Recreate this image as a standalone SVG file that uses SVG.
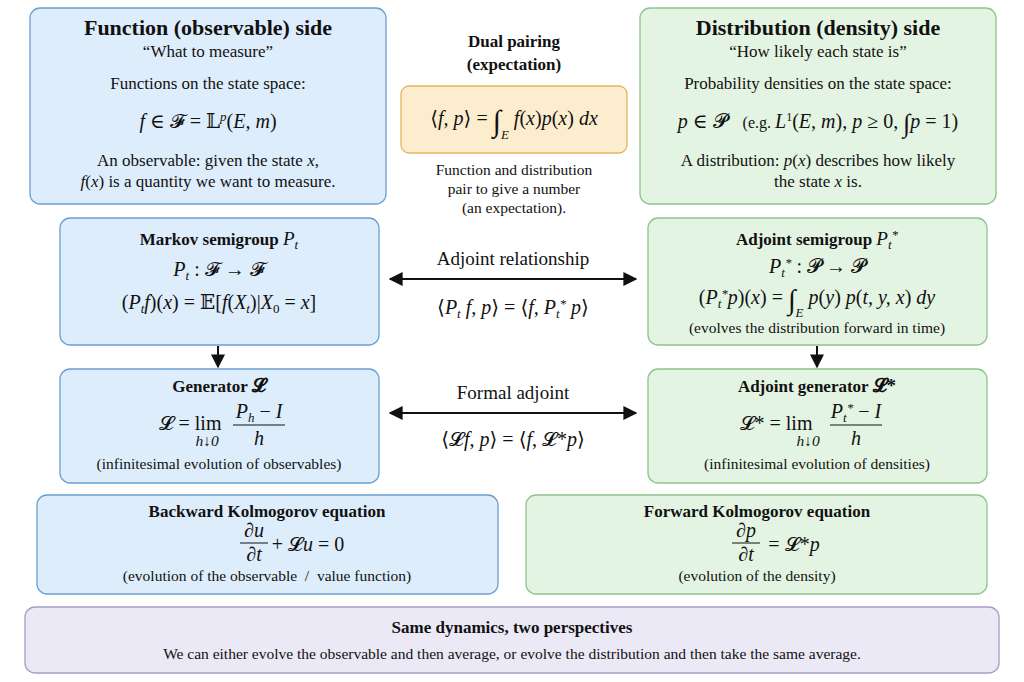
<svg xmlns="http://www.w3.org/2000/svg" width="1024" height="682" viewBox="0 0 1024 682" font-family="'Liberation Serif', 'Times New Roman', Tinos, 'DejaVu Serif', serif">
<style>
text, tspan{font-family:'Liberation Serif','Times New Roman',Tinos,'DejaVu Serif',serif}
text{fill:#111;text-anchor:middle}
.t{font-size:22px;font-weight:bold}
.h{font-size:17px;font-weight:bold}
.n{font-size:17px}
.s{font-size:15.5px}
.m{font-size:20px}
.i{font-style:italic}
.b{fill:#deedfb;stroke:#6a9fd0;stroke-width:1.3}
.g{fill:#e4f4e2;stroke:#8dc48b;stroke-width:1.3}
.o{fill:#fdedcf;stroke:#e2b460;stroke-width:1.3}
.p{fill:#ece9f7;stroke:#a89dc9;stroke-width:1.3}
.c{stroke:#111;stroke-width:2;fill:none}
</style>
<defs>
<marker id="a" viewBox="0 0 10 10" refX="9" refY="5" markerWidth="7" markerHeight="7" orient="auto-start-reverse"><path d="M0,0L10,5L0,10z" fill="#111"/></marker>
</defs>
<rect width="1024" height="682" fill="#fff"/>
<g id="func">
<rect class="b" x="30" y="8" width="356" height="196" rx="10"/>
<text class="t" x="208" y="35">Function (observable) side</text>
<text class="n" x="208" y="57">“What to measure”</text>
<text class="n" x="208" y="89">Functions on the state space:</text>
<text class="m" x="208" y="128"><tspan class="i">f</tspan> ∈ 𝓕 = 𝕃<tspan class="i" dy="-7" font-size="13">p</tspan><tspan dy="7">(</tspan><tspan class="i">E, m</tspan>)</text>
<text class="n" x="208" y="166">An observable: given the state <tspan class="i">x</tspan>,</text>
<text class="n" x="208" y="187"><tspan class="i">f</tspan>(<tspan class="i">x</tspan>) is a quantity we want to measure.</text>
</g>
<g id="pair">
<text class="h" x="514" y="47">Dual pairing</text>
<text class="h" x="514" y="70">(expectation)</text>
<rect class="o" x="401" y="86" width="226" height="67" rx="8"/>
<text class="m" x="514" y="125">⟨<tspan class="i">f, p</tspan>⟩ = <tspan font-size="30" dy="6">∫</tspan><tspan class="i" font-size="13" dy="8">E</tspan><tspan dy="-14"> </tspan><tspan class="i">f</tspan>(<tspan class="i">x</tspan>)<tspan class="i">p</tspan>(<tspan class="i">x</tspan>) <tspan class="i">dx</tspan></text>
<text class="s" x="514" y="175">Function and distribution</text>
<text class="s" x="514" y="194">pair to give a number</text>
<text class="s" x="514" y="213">(an expectation).</text>
</g>
<g id="dist">
<rect class="g" x="640" y="8" width="356" height="196" rx="10"/>
<text class="t" x="818" y="35">Distribution (density) side</text>
<text class="n" x="818" y="57">“How likely each state is”</text>
<text class="n" x="818" y="89">Probability densities on the state space:</text>
<text class="m" x="818" y="128"><tspan class="i">p</tspan> ∈ 𝓟<tspan font-size="16" xml:space="preserve">    (e.g. </tspan><tspan class="i">L</tspan><tspan font-size="12" dy="-7">1</tspan><tspan dy="7">(</tspan><tspan class="i">E, m</tspan>), <tspan class="i">p</tspan> ≥ 0, <tspan font-size="26" dy="4">∫</tspan><tspan dy="-4" class="i">p</tspan> = 1)</text>
<text class="n" x="818" y="166">A distribution: <tspan class="i">p</tspan>(<tspan class="i">x</tspan>) describes how likely</text>
<text class="n" x="818" y="187">the state <tspan class="i">x</tspan> is.</text>
</g>
<g id="markov">
<rect class="b" x="60" y="218" width="319" height="127" rx="10"/>
<text class="h" x="219" y="245">Markov semigroup <tspan class="i" font-weight="normal" font-size="19">P<tspan font-size="13" dy="4">t</tspan></tspan></text>
<text class="m" x="219" y="276"><tspan class="i">P<tspan font-size="13" dy="4">t</tspan></tspan><tspan dy="-4"> : 𝓕 → 𝓕</tspan></text>
<text class="m" x="219" y="309">(<tspan class="i">P<tspan font-size="13" dy="4">t</tspan></tspan><tspan dy="-4" class="i">f</tspan>)(<tspan class="i">x</tspan>) = 𝔼[<tspan class="i">f</tspan>(<tspan class="i">X<tspan font-size="13" dy="4">t</tspan></tspan><tspan dy="-4">)|</tspan><tspan class="i">X</tspan><tspan font-size="13" dy="4">0</tspan><tspan dy="-4"> = </tspan><tspan class="i">x</tspan>]</text>
</g>
<g id="adjsemi">
<rect class="g" x="648" y="218" width="339" height="127" rx="10"/>
<text class="h" x="817" y="245">Adjoint semigroup <tspan class="i" font-weight="normal" font-size="19">P<tspan font-size="13" dy="4">t</tspan><tspan font-size="13" dy="-10">*</tspan></tspan></text>
<text class="m" x="817" y="273"><tspan class="i">P<tspan font-size="13" dy="4">t</tspan><tspan font-size="13" dy="-10">*</tspan></tspan><tspan dy="6"> : 𝓟 → 𝓟</tspan></text>
<text class="m" x="817" y="304">(<tspan class="i">P<tspan font-size="13" dy="4">t</tspan><tspan font-size="13" dy="-10">*</tspan></tspan><tspan dy="6" class="i">p</tspan>)(<tspan class="i">x</tspan>) = <tspan font-size="28" dy="5">∫</tspan><tspan class="i" font-size="13" dy="8">E</tspan><tspan dy="-13" class="i"> p</tspan>(<tspan class="i">y</tspan>) <tspan class="i">p</tspan>(<tspan class="i">t, y, x</tspan>) <tspan class="i">dy</tspan></text>
<text class="s" x="817" y="333">(evolves the distribution forward in time)</text>
</g>
<g id="gen">
<rect class="b" x="60" y="369" width="319" height="114" rx="10"/>
<text class="h" x="219" y="392">Generator <tspan font-size="19">𝓛</tspan></text>
<text class="m" x="190" y="430">𝓛 = lim</text>
<text class="s i" x="207" y="446">h↓0</text>
<line x1="233" y1="425" x2="285" y2="425" stroke="#111" stroke-width="1"/>
<text class="m" x="259" y="418"><tspan class="i">P<tspan font-size="13" dy="4">h</tspan></tspan><tspan dy="-4"> − </tspan><tspan class="i">I</tspan></text>
<text class="m i" x="259" y="445">h</text>
<text class="s" x="219" y="469">(infinitesimal evolution of observables)</text>
</g>
<g id="adjgen">
<rect class="g" x="648" y="369" width="339" height="114" rx="10"/>
<text class="h" x="817" y="392">Adjoint generator <tspan font-size="19">𝓛*</tspan></text>
<text class="m" x="776" y="430">𝓛* = lim</text>
<text class="s i" x="808" y="446">h↓0</text>
<line x1="830" y1="425" x2="882" y2="425" stroke="#111" stroke-width="1"/>
<text class="m" x="856" y="418"><tspan class="i">P<tspan font-size="13" dy="4">t</tspan><tspan font-size="13" dy="-10">*</tspan></tspan><tspan dy="6"> − </tspan><tspan class="i">I</tspan></text>
<text class="m i" x="856" y="445">h</text>
<text class="s" x="817" y="469">(infinitesimal evolution of densities)</text>
</g>
<g id="backward">
<rect class="b" x="37" y="495" width="461" height="99" rx="10"/>
<text class="h" x="267" y="517">Backward Kolmogorov equation</text>
<text class="m i" x="254" y="537">∂u</text>
<line x1="240" y1="543" x2="268" y2="543" stroke="#111" stroke-width="1"/>
<text class="m i" x="254" y="561">∂t</text>
<text class="m" x="308" y="551">+ 𝓛<tspan class="i">u</tspan> = 0</text>
<text class="s" x="267" y="581" xml:space="preserve">(evolution of the observable  /  value function)</text>
</g>
<g id="forward">
<rect class="g" x="526" y="495" width="461" height="99" rx="10"/>
<text class="h" x="757" y="517">Forward Kolmogorov equation</text>
<text class="m i" x="746" y="537">∂p</text>
<line x1="732" y1="543" x2="760" y2="543" stroke="#111" stroke-width="1"/>
<text class="m i" x="746" y="561">∂t</text>
<text class="m" x="794" y="551">= 𝓛*<tspan class="i">p</tspan></text>
<text class="s" x="757" y="581">(evolution of the density)</text>
</g>
<g id="summary">
<rect class="p" x="25" y="607" width="974" height="66" rx="10"/>
<text class="h" x="512" y="633">Same dynamics, two perspectives</text>
<text class="s" x="512" y="659">We can either evolve the observable and then average, or evolve the distribution and then take the same average.</text>
</g>
<g id="connectors">
<line class="c" x1="218" y1="346" x2="218" y2="367" marker-end="url(#a)"/>
<line class="c" x1="817" y1="346" x2="817" y2="367" marker-end="url(#a)"/>
<line class="c" x1="390" y1="279" x2="636" y2="279" marker-start="url(#a)" marker-end="url(#a)"/>
<line class="c" x1="390" y1="413" x2="636" y2="413" marker-start="url(#a)" marker-end="url(#a)"/>
<text x="513" y="265" font-size="19">Adjoint relationship</text>
<text class="m" x="513" y="314">⟨<tspan class="i">P<tspan font-size="13" dy="4">t</tspan></tspan><tspan dy="-4" class="i"> f, p</tspan>⟩ = ⟨<tspan class="i">f, P<tspan font-size="13" dy="4">t</tspan><tspan font-size="13" dy="-10">*</tspan></tspan><tspan dy="6" class="i"> p</tspan>⟩</text>
<text x="513" y="399" font-size="19">Formal adjoint</text>
<text class="m" x="513" y="446">⟨𝓛<tspan class="i">f, p</tspan>⟩ = ⟨<tspan class="i">f</tspan>, 𝓛*<tspan class="i">p</tspan>⟩</text>
</g>
</svg>
